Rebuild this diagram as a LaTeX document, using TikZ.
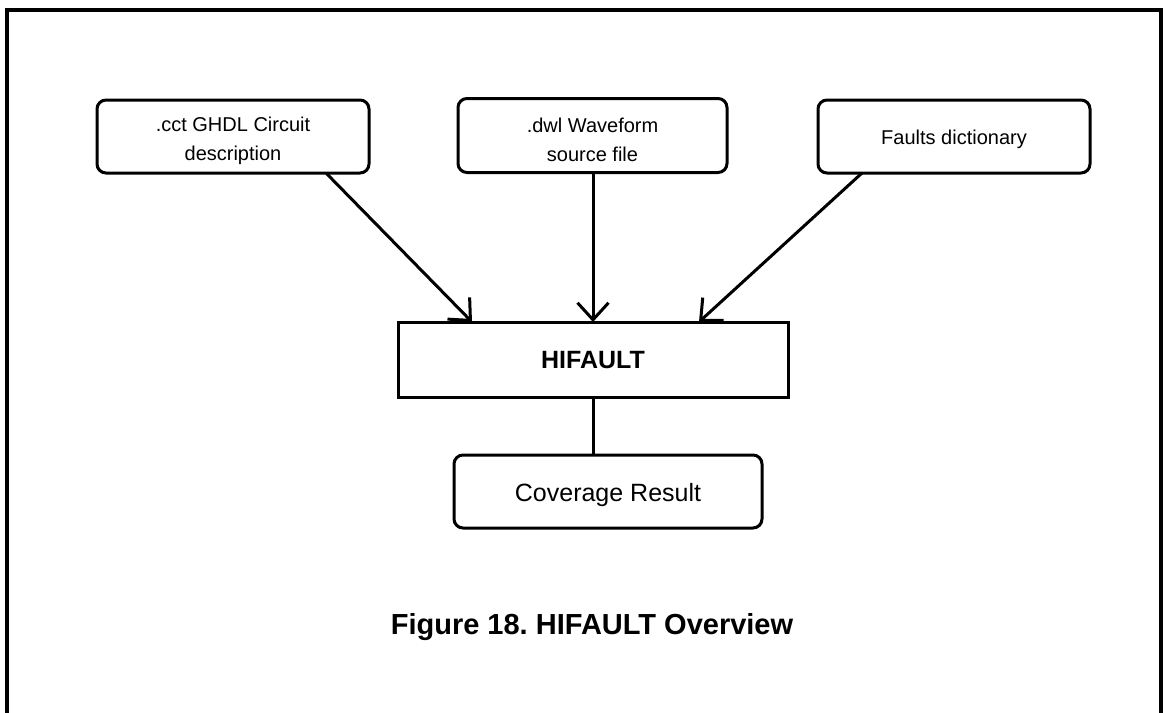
\documentclass[tikz,border=0pt]{standalone}
\usepackage{fontspec}
\setmainfont{Liberation Sans}
\frenchspacing
\usetikzlibrary{arrows.meta}
\begin{document}
\begin{tikzpicture}[x=1pt,y=-1pt,
  every node/.style={inner sep=0pt,outer sep=0pt},
  srcbox/.style={draw,line width=3pt,rounded corners=9pt,minimum width=272pt,minimum height=73pt},
  srctext/.style={align=center,font=\fontsize{20}{29}\selectfont},
  procbox/.style={draw,line width=3pt,minimum width=390pt,minimum height=75pt},
  proctext/.style={font=\fontsize{25}{30}\selectfont\bfseries},
  resbox/.style={draw,line width=3pt,rounded corners=9pt,minimum width=308pt,minimum height=73pt},
  restext/.style={font=\fontsize{25}{30}\selectfont},
  feed/.style={line width=3pt,-{Straight Barb[length=17pt,width=31pt,line width=3pt]}},
  link/.style={line width=3pt}]
\useasboundingbox (0,0) rectangle (1167,712);
\begin{scope}
\clip (0,0) rectangle (1167,712);
\draw[line width=3.5pt] (7,730) -- (7,10) -- (1161,10) -- (1161,730);
\end{scope}

% inputs
\node[srcbox] (cct) at (233,136.5) {};
\node[srctext] (cctt) at ([yshift=-4pt]cct.center) {.cct GHDL Circuit\\description};
\node[srcbox,minimum width=269pt,minimum height=74pt] (dwl) at (592.5,135.5) {};
\node[srctext] (dwlt) at ([yshift=-4pt]dwl.center) {.dwl Waveform\\source file};
\node[srcbox] (flt) at (954,136.5) {};
\node[srctext] (fltt) at ([yshift=-3pt]flt.center) {Faults dictionary};

% simulator and result
\node[procbox] (hf) at (593,359.5) {};
\node[proctext] (hft) at ([yshift=-1pt]hf.center) {HIFAULT};
\node[resbox] (cov) at (608,491.5) {};
\node[restext] (covt) at ([yshift=-4pt]cov.center) {Coverage Result};

% connectors
\draw[feed] (cct.south -| 326,0) -- (hf.north -| 472,0);
\draw[feed] (dwl.south -| 593,0) -- (hf.north -| 593,0);
\draw[feed] (flt.south -| 862,0) -- (hf.north -| 699,0);
\draw[link] (hf.south -| 593,0) -- (cov.north -| 593,0);

% caption
\node[font=\fontsize{29}{34}\selectfont\bfseries] (cap) at (592,627) {Figure 18. HIFAULT Overview};
\end{tikzpicture}
\end{document}
